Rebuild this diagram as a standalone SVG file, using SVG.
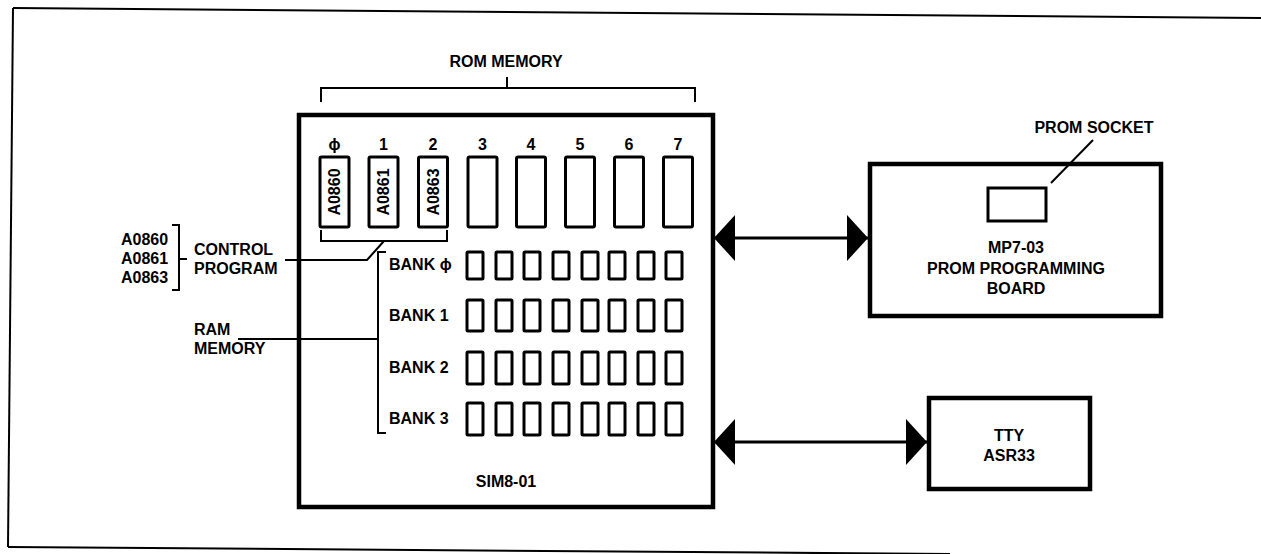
<svg xmlns="http://www.w3.org/2000/svg" width="1261" height="554" viewBox="0 0 1261 554">
<style>
  text { font-family: "Liberation Sans", Arial, sans-serif; font-weight: bold; font-size: 16px; fill: #000; }
  .mid { text-anchor: middle; }
  .thin { fill: none; stroke: #000; stroke-width: 2; }
  .board { fill: #fff; stroke: #000; stroke-width: 4.5; }
  .rom { fill: #fff; stroke: #000; stroke-width: 3; rx: 1.5; }
  .ram { fill: #fff; stroke: #000; stroke-width: 3; rx: 1; }
  .conn { fill: none; stroke: #000; stroke-width: 3; }
</style>
<defs>
  <marker id="head" viewBox="0 0 21 46" refX="21" refY="23" markerWidth="21" markerHeight="46" markerUnits="userSpaceOnUse" orient="auto-start-reverse">
    <path d="M0,0 L21,23 L0,46 Z" fill="#000"/>
  </marker>
</defs>
<rect width="1261" height="554" fill="#fff"/>

<g id="frame">
  <path class="thin" d="M13,8 L1261,18"/>
  <path class="thin" d="M13,8 L8,547"/>
  <path class="thin" d="M8,547 L950,554"/>
</g>

<g id="rom-memory-label">
  <text class="mid" x="506" y="67">ROM MEMORY</text>
  <path class="thin" d="M321,102 V88 H695 V102 M507,88 V77"/>
</g>

<g id="sim8-01">
  <rect class="board" x="299" y="115" width="414" height="392"/>
  <text class="mid" x="506" y="487">SIM8-01</text>
  <g id="rom-sockets">
    <text class="mid" x="334.5" y="150">ϕ</text>
    <text class="mid" x="383.5" y="150">1</text>
    <text class="mid" x="433" y="150">2</text>
    <text class="mid" x="482.5" y="150">3</text>
    <text class="mid" x="531" y="150">4</text>
    <text class="mid" x="580" y="150">5</text>
    <text class="mid" x="629" y="150">6</text>
    <text class="mid" x="678" y="150">7</text>
    <rect class="rom" x="320" y="157" width="29" height="70"/>
    <rect class="rom" x="369" y="157" width="29" height="70"/>
    <rect class="rom" x="418.5" y="157" width="29" height="70"/>
    <rect class="rom" x="468" y="157" width="29" height="70"/>
    <rect class="rom" x="516.5" y="157" width="29" height="70"/>
    <rect class="rom" x="565.5" y="157" width="29" height="70"/>
    <rect class="rom" x="614.5" y="157" width="29" height="70"/>
    <rect class="rom" x="663.5" y="157" width="29" height="70"/>
    <text class="mid" transform="translate(340,192) rotate(-90)">A0860</text>
    <text class="mid" transform="translate(389,192) rotate(-90)">A0861</text>
    <text class="mid" transform="translate(438.5,192) rotate(-90)">A0863</text>
  </g>
  <g id="ram-banks">
    <text x="389" y="270">BANK ϕ</text>
    <text x="389" y="321">BANK 1</text>
    <text x="389" y="373">BANK 2</text>
    <text x="389" y="424">BANK 3</text>
    <g id="bank0">
      <rect class="ram" x="467" y="252" width="16" height="27"/>
      <rect class="ram" x="496" y="252" width="16" height="27"/>
      <rect class="ram" x="524" y="252" width="16" height="27"/>
      <rect class="ram" x="553" y="252" width="16" height="27"/>
      <rect class="ram" x="582" y="252" width="16" height="27"/>
      <rect class="ram" x="609" y="252" width="16" height="27"/>
      <rect class="ram" x="638" y="252" width="16" height="27"/>
      <rect class="ram" x="666" y="252" width="16" height="27"/>
    </g>
    <g id="bank1">
      <rect class="ram" x="467" y="300" width="16" height="31"/>
      <rect class="ram" x="496" y="300" width="16" height="31"/>
      <rect class="ram" x="524" y="300" width="16" height="31"/>
      <rect class="ram" x="553" y="300" width="16" height="31"/>
      <rect class="ram" x="582" y="300" width="16" height="31"/>
      <rect class="ram" x="609" y="300" width="16" height="31"/>
      <rect class="ram" x="638" y="300" width="16" height="31"/>
      <rect class="ram" x="666" y="300" width="16" height="31"/>
    </g>
    <g id="bank2">
      <rect class="ram" x="467" y="352" width="16" height="32"/>
      <rect class="ram" x="496" y="352" width="16" height="32"/>
      <rect class="ram" x="524" y="352" width="16" height="32"/>
      <rect class="ram" x="553" y="352" width="16" height="32"/>
      <rect class="ram" x="582" y="352" width="16" height="32"/>
      <rect class="ram" x="609" y="352" width="16" height="32"/>
      <rect class="ram" x="638" y="352" width="16" height="32"/>
      <rect class="ram" x="666" y="352" width="16" height="32"/>
    </g>
    <g id="bank3">
      <rect class="ram" x="467" y="403" width="16" height="32"/>
      <rect class="ram" x="496" y="403" width="16" height="32"/>
      <rect class="ram" x="524" y="403" width="16" height="32"/>
      <rect class="ram" x="553" y="403" width="16" height="32"/>
      <rect class="ram" x="582" y="403" width="16" height="32"/>
      <rect class="ram" x="609" y="403" width="16" height="32"/>
      <rect class="ram" x="638" y="403" width="16" height="32"/>
      <rect class="ram" x="666" y="403" width="16" height="32"/>
    </g>
  </g>
</g>

<g id="control-program-label">
  <text x="121" y="245">A0860</text>
  <text x="121" y="264">A0861</text>
  <text x="121" y="283">A0863</text>
  <path class="thin" d="M172,225 H179 V290 H172 M179,259 H187"/>
  <text x="194" y="255">CONTROL</text>
  <text x="194" y="274">PROGRAM</text>
</g>

<g id="ram-memory-label">
  <text x="194" y="335">RAM</text>
  <text x="194" y="354">MEMORY</text>
</g>

<g id="mp7-03">
  <rect class="board" x="870" y="164" width="291" height="152"/>
  <rect fill="#fff" stroke="#000" stroke-width="3" x="988" y="188" width="58" height="33"/>
  <text class="mid" x="1016" y="253">MP7-03</text>
  <text class="mid" x="1016" y="274">PROM PROGRAMMING</text>
  <text class="mid" x="1016" y="294">BOARD</text>
</g>

<g id="prom-socket-label">
  <text class="mid" x="1094" y="133">PROM SOCKET</text>
</g>

<g id="tty">
  <rect class="board" x="929" y="398" width="161" height="91"/>
  <text class="mid" x="1009" y="441">TTY</text>
  <text class="mid" x="1009" y="461">ASR33</text>
</g>

<g id="connectors">
  <path class="thin" d="M321,230 V241 H447 V230"/>
  <path class="thin" d="M384,241 L367,260 H285"/>
  <path class="thin" d="M238,339 H378"/>
  <path class="thin" d="M386,252 H378 V433 H386"/>
  <path class="thin" d="M1093,140 L1051,183"/>
  <path class="conn" d="M714,238 H868" marker-start="url(#head)" marker-end="url(#head)"/>
  <path class="conn" d="M714,442 H927" marker-start="url(#head)" marker-end="url(#head)"/>
</g>
</svg>
